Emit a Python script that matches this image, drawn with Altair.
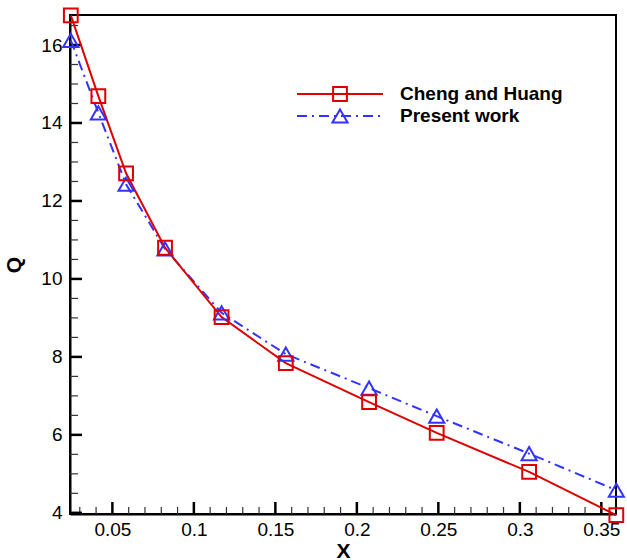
import altair as alt
import pandas as pd

# Data
x_vals = [0.0245, 0.0414, 0.0584, 0.0823, 0.1170, 0.1564, 0.2075, 0.2490, 0.3057, 0.3592]
cheng_q = [16.76, 14.69, 12.71, 10.80, 9.02, 7.84, 6.84, 6.05, 5.05, 3.94]
present_q = [16.12, 14.26, 12.43, 10.77, 9.13, 8.07, 7.20, 6.48, 5.52, 4.58]

x_major = [0.05, 0.1, 0.15, 0.2, 0.25, 0.3, 0.35]
x_minor = [0.03, 0.04, 0.06, 0.07, 0.08, 0.09, 0.11, 0.12, 0.13, 0.14, 0.16, 0.17, 0.18, 0.19,
           0.21, 0.22, 0.23, 0.24, 0.26, 0.27, 0.28, 0.29, 0.31, 0.32, 0.33, 0.34]
y_major = [4, 6, 8, 10, 12, 14, 16]
y_minor = [4.5, 5, 5.5, 6.5, 7, 7.5, 8.5, 9, 9.5, 10.5, 11, 11.5, 12.5, 13, 13.5,
           14.5, 15, 15.5, 16.5]

W, H = 546, 499
FONT = "Liberation Sans"
RED = "#dd0000"
BLUE = "#3333ff"

xs = alt.Scale(domain=[0.024, 0.359], nice=False, zero=False)
ys = alt.Scale(domain=[3.97, 16.77], nice=False, zero=False)

df_c = pd.DataFrame({"x": x_vals, "q": cheng_q})
df_p = pd.DataFrame({"x": x_vals, "q": present_q})

xaxis = alt.Axis(values=x_major, format="~g", ticks=False, domain=True, domainColor="black",
                 domainWidth=2, grid=False,
                 labelFont=FONT, labelFontSize=19, labelColor="black", labelPadding=6,
                 title="X", titleFont=FONT, titleFontSize=21, titleFontWeight="bold",
                 titleColor="black", titlePadding=1)
yaxis = alt.Axis(values=y_major, format="d", ticks=False, domain=True, domainColor="black",
                 domainWidth=2, grid=False,
                 labelFont=FONT, labelFontSize=19, labelColor="black", labelPadding=8,
                 title="Q", titleFont=FONT, titleFontSize=21, titleFontWeight="bold",
                 titleColor="black", titlePadding=16)

base_axes = alt.Chart(df_c).mark_point(opacity=0).encode(
    x=alt.X("x:Q", scale=xs, axis=xaxis),
    y=alt.Y("q:Q", scale=ys, axis=yaxis),
)

present_line = alt.Chart(df_p).mark_line(color=BLUE, strokeWidth=2, strokeDash=[10, 5, 2, 5]).encode(
    x=alt.X("x:Q", scale=xs), y=alt.Y("q:Q", scale=ys))
present_pts = alt.Chart(df_p).mark_point(shape="triangle-up", size=230, filled=False,
                                         color=BLUE, strokeWidth=2, opacity=1).encode(
    x=alt.X("x:Q", scale=xs), y=alt.Y("q:Q", scale=ys))
cheng_line = alt.Chart(df_c).mark_line(color=RED, strokeWidth=2).encode(
    x=alt.X("x:Q", scale=xs), y=alt.Y("q:Q", scale=ys))
cheng_pts = alt.Chart(df_c).mark_point(shape="square", size=190, filled=False,
                                       color=RED, strokeWidth=2, opacity=1).encode(
    x=alt.X("x:Q", scale=xs), y=alt.Y("q:Q", scale=ys))

# inward ticks drawn through the shared scales
xmaj = alt.Chart(pd.DataFrame({"xt": x_major})).mark_rule(color="black", strokeWidth=2.5).encode(
    x=alt.X("xt:Q", scale=xs), y=alt.value(H), y2=alt.value(H - 12))
xmin = alt.Chart(pd.DataFrame({"xm": x_minor})).mark_rule(color="#333333", strokeWidth=1.2).encode(
    x=alt.X("xm:Q", scale=xs), y=alt.value(H), y2=alt.value(H - 7))
ymaj = alt.Chart(pd.DataFrame({"yt": y_major})).mark_rule(color="black", strokeWidth=2.5).encode(
    y=alt.Y("yt:Q", scale=ys), x=alt.value(0), x2=alt.value(12))
ymin = alt.Chart(pd.DataFrame({"ym": y_minor})).mark_rule(color="#333333", strokeWidth=1.2).encode(
    y=alt.Y("ym:Q", scale=ys), x=alt.value(0), x2=alt.value(8))

one = pd.DataFrame({"a": [0]})
leg_c_line = alt.Chart(one).mark_rule(color=RED, strokeWidth=2).encode(
    x=alt.value(227), x2=alt.value(313), y=alt.value(79))
leg_c_pt = alt.Chart(one).mark_point(shape="square", size=190, filled=False, color=RED,
                                     strokeWidth=2, opacity=1).encode(x=alt.value(270), y=alt.value(79))
leg_c_txt = alt.Chart(one).mark_text(align="left", baseline="middle", font=FONT, fontSize=19,
                                     fontWeight="bold", color="black").encode(
    x=alt.value(330), y=alt.value(79), text=alt.value("Cheng and Huang"))
leg_p_line = alt.Chart(one).mark_rule(color=BLUE, strokeWidth=2, strokeDash=[10, 5, 2, 5]).encode(
    x=alt.value(227), x2=alt.value(313), y=alt.value(101))
leg_p_pt = alt.Chart(one).mark_point(shape="triangle-up", size=230, filled=False, color=BLUE,
                                     strokeWidth=2, opacity=1).encode(x=alt.value(270), y=alt.value(101))
leg_p_txt = alt.Chart(one).mark_text(align="left", baseline="middle", font=FONT, fontSize=19,
                                     fontWeight="bold", color="black").encode(
    x=alt.value(330), y=alt.value(101), text=alt.value("Present work"))

chart = alt.layer(
    base_axes, xmin, xmaj, ymin, ymaj,
    present_line, cheng_line, present_pts, cheng_pts,
    leg_c_line, leg_c_pt, leg_c_txt, leg_p_line, leg_p_pt, leg_p_txt,
).properties(
    width=W, height=H,
    autosize=alt.AutoSizeParams(type="none"),
    padding={"left": 70, "top": 15, "right": 11, "bottom": 46},
).configure(
    background="white",
    view=alt.ViewConfig(stroke="black", strokeWidth=2),
)

chart.save("out.html", embed_options={"renderer": "svg", "actions": False})
